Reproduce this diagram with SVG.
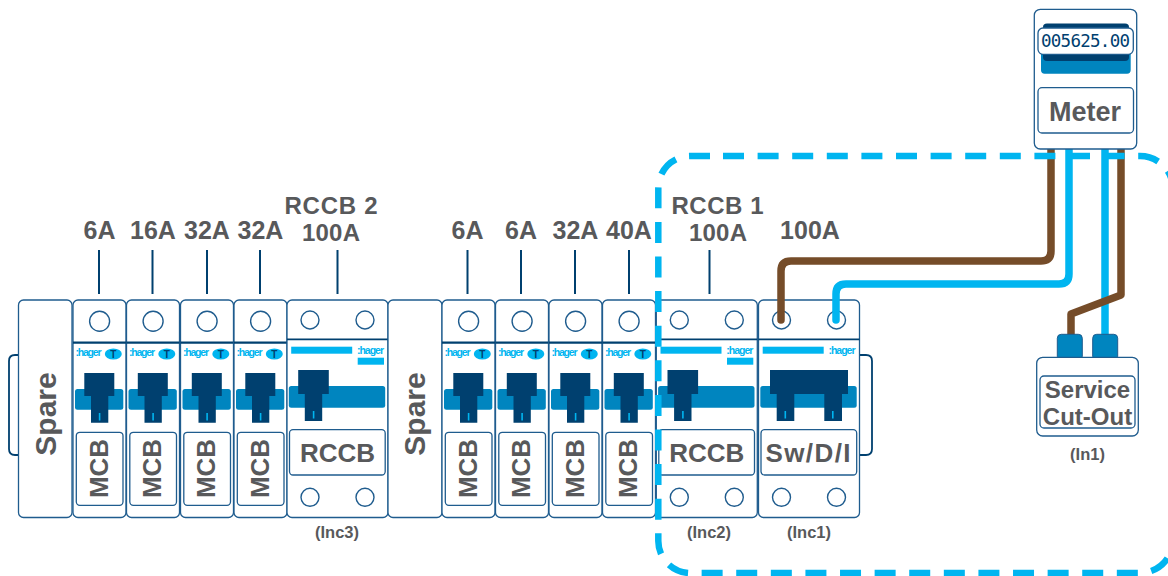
<svg xmlns="http://www.w3.org/2000/svg" width="1168" height="576" viewBox="0 0 1168 576">
<style>
text{font-family:"Liberation Sans",Arial,sans-serif;font-weight:700;fill:#58595b;text-anchor:middle}
.body{fill:#fff;stroke:#1f5c8e;stroke-width:1.3}
.box{fill:#fff;stroke:#1f5c8e;stroke-width:1.3}
.ter{fill:#fff;stroke:#1f5c8e;stroke-width:1.4}
.div{stroke:#00406f;fill:none}
.dark{fill:#00406f}
.bar{fill:#0085bf}
.cy{fill:#00b5f0}
.tick{stroke:#00406f;stroke-width:2;fill:none}
.lab{font-size:25px}
.lab2{font-size:24px}
.mod{font-size:26px}
.inc{font-size:16.5px}
.ha{font-size:10.5px;fill:#00b5f0;text-anchor:start;font-weight:700}
.t{font-size:10px;fill:#00406f}
.wb{fill:none;stroke:#754c29;stroke-width:7.5;stroke-linecap:round;stroke-linejoin:round}
.wc{fill:none;stroke:#00b5f0;stroke-width:7.5;stroke-linecap:round;stroke-linejoin:round}
.dash{fill:none;stroke:#00b5f0;stroke-width:6.5;stroke-dasharray:21 13.6}
</style>
<defs>
<g id="mcb-shape">
<rect class="body" x="0" y="300" width="53" height="217.5" rx="5"/>
<circle class="ter" cx="26.6" cy="321.3" r="10"/>
<path class="div" stroke-width="2.2" d="M0 342.7H53"/>
<ellipse class="cy" cx="40.3" cy="354" rx="8.5" ry="5.5"/>
<rect class="bar" x="2" y="389" width="48.3" height="20.7" rx="2.5"/>
<path class="dark" d="M11.3 373H41.3V396H35.3V422.7H18V396H11.3Z"/>
<rect class="cy" x="25.8" y="413" width="1.6" height="7.5"/>
<rect class="box" x="3.3" y="432.3" width="46.7" height="73" rx="3.5"/>
</g>
<g id="wide-shape">
<rect class="body" x="0" y="300" width="101" height="217.5" rx="5"/>
<circle class="ter" cx="23" cy="320" r="9"/>
<circle class="ter" cx="78" cy="320" r="9"/>
<circle class="ter" cx="23" cy="497.3" r="9"/>
<circle class="ter" cx="78" cy="497.3" r="9"/>
<path class="div" stroke-width="1.8" d="M0 339.3H101"/>
<rect class="cy" x="4.2" y="346.7" width="61" height="7"/>
<rect class="bar" x="1.8" y="386" width="96.4" height="21.7" rx="2.5"/>
<rect class="box" x="2.5" y="429.7" width="95.7" height="45.3" rx="3.5"/>
</g>
<path id="rccb-handle" class="dark" d="M11.2 370H41.8V394H35.2V421H17.8V394H11.2Z"/>
</defs>

<g id="brackets">
<path d="M18 355H15Q9 355 9 361V449Q9 455 15 455H18" fill="none" stroke="#00406f" stroke-width="1.8"/>
<path d="M860 355H866Q872 355 872 361V449Q872 455 866 455H860" fill="none" stroke="#00406f" stroke-width="1.8"/>
</g>

<g id="spare1"><rect class="body" x="18.5" y="300" width="53.500" height="217.500" rx="5"/><text transform="translate(55.500,414) rotate(-90)" font-size="30">Spare</text></g>
<g id="mcb1" transform="translate(73,0)"><use href="#mcb-shape"/><text class="ha" x="2.500" y="356" textLength="26">:hager</text><text class="t" x="40.300" y="357.500">T</text><text class="mod" transform="translate(34.500,468.500) rotate(-90)">MCB</text></g>
<g id="mcb2" transform="translate(126.500,0)"><use href="#mcb-shape"/><text class="ha" x="2.500" y="356" textLength="26">:hager</text><text class="t" x="40.300" y="357.500">T</text><text class="mod" transform="translate(34.500,468.500) rotate(-90)">MCB</text></g>
<g id="mcb3" transform="translate(180.500,0)"><use href="#mcb-shape"/><text class="ha" x="2.500" y="356" textLength="26">:hager</text><text class="t" x="40.300" y="357.500">T</text><text class="mod" transform="translate(34.500,468.500) rotate(-90)">MCB</text></g>
<g id="mcb4" transform="translate(234,0)"><use href="#mcb-shape"/><text class="ha" x="2.500" y="356" textLength="26">:hager</text><text class="t" x="40.300" y="357.500">T</text><text class="mod" transform="translate(34.500,468.500) rotate(-90)">MCB</text></g>
<g id="rccb2" transform="translate(287,0)"><use href="#wide-shape"/><rect class="cy" x="70.700" y="357.700" width="26.300" height="7"/><use href="#rccb-handle"/><rect class="cy" x="25.800" y="411" width="1.600" height="7.500"/><text class="ha" x="70" y="353.500" textLength="27">:hager</text><text class="mod" x="50.500" y="461.500">RCCB</text></g>

<g id="spare2"><rect class="body" x="388" y="300" width="54" height="217.500" rx="5"/><text transform="translate(425,414) rotate(-90)" font-size="30">Spare</text></g>
<g id="mcb5" transform="translate(442,0)"><use href="#mcb-shape"/><text class="ha" x="2.500" y="356" textLength="26">:hager</text><text class="t" x="40.300" y="357.500">T</text><text class="mod" transform="translate(34.500,468.500) rotate(-90)">MCB</text></g>
<g id="mcb6" transform="translate(495.500,0)"><use href="#mcb-shape"/><text class="ha" x="2.500" y="356" textLength="26">:hager</text><text class="t" x="40.300" y="357.500">T</text><text class="mod" transform="translate(34.500,468.500) rotate(-90)">MCB</text></g>
<g id="mcb7" transform="translate(549,0)"><use href="#mcb-shape"/><text class="ha" x="2.500" y="356" textLength="26">:hager</text><text class="t" x="40.300" y="357.500">T</text><text class="mod" transform="translate(34.500,468.500) rotate(-90)">MCB</text></g>
<g id="mcb8" transform="translate(602.500,0)"><use href="#mcb-shape"/><text class="ha" x="2.500" y="356" textLength="26">:hager</text><text class="t" x="40.300" y="357.500">T</text><text class="mod" transform="translate(34.500,468.500) rotate(-90)">MCB</text></g>
<g id="rccb1" transform="translate(656.300,0)"><use href="#wide-shape"/><rect class="cy" x="70.700" y="357.700" width="26.300" height="7"/><use href="#rccb-handle"/><rect class="cy" x="25.800" y="411" width="1.600" height="7.500"/><text class="ha" x="70" y="353.500" textLength="27">:hager</text><text class="mod" x="50.500" y="461.500">RCCB</text></g>
<g id="swdi" transform="translate(758.500,0)"><use href="#wide-shape"/><path class="dark" d="M11.500 370H89.500V394H83.500V421H65.800V394H35.800V421H18.200V394H11.500Z"/><rect class="cy" x="26" y="411" width="1.600" height="7.500"/><rect class="cy" x="73.500" y="411" width="1.600" height="7.500"/><text class="ha" x="70" y="353.500" textLength="27">:hager</text><text class="mod" x="49.500" y="461.500" textLength="85">Sw/D/I</text></g>

<g id="labels">
<text class="lab" x="99.500" y="239">6A</text>
<text class="lab" x="153" y="239">16A</text>
<text class="lab" x="207" y="239">32A</text>
<text class="lab" x="260.500" y="239">32A</text>
<text class="lab2" x="331" y="213.500" textLength="93">RCCB 2</text>
<text class="lab2" x="331" y="240.500" textLength="58">100A</text>
<text class="lab" x="467.500" y="239">6A</text>
<text class="lab" x="521" y="239">6A</text>
<text class="lab" x="575.500" y="239">32A</text>
<text class="lab" x="629" y="239">40A</text>
<text class="lab2" x="717.500" y="213.500" textLength="92">RCCB 1</text>
<text class="lab2" x="718" y="240.500" textLength="58">100A</text>
<text class="lab" x="810" y="239">100A</text>
<text class="inc" x="337" y="538">(Inc3)</text>
<text class="inc" x="709" y="538">(Inc2)</text>
<text class="inc" x="809" y="538">(Inc1)</text>
<text class="inc" x="1087.500" y="460">(In1)</text>
</g>

<g id="connectors">
<path class="tick" d="M99 250V294M152.500 250V294M207 250V294M260 250V294M337.500 250V294M467.500 250V294M521 250V294M575 250V294M629 250V294M709.500 250V294"/>
<path class="wb" d="M1051 145V251Q1051 261 1041 261H791Q781 261 781 271V320"/>
<path class="wc" d="M1069 145V274Q1069 284 1059 284H846Q836 284 836 294V320"/>
<path class="wc" d="M1105 145V338" stroke-linecap="butt"/>
<path class="wb" d="M1121 145V295L1071 314V338" stroke-linejoin="miter"/>
</g>

<g id="meter">
<rect class="body" x="1034.300" y="9.300" width="102.400" height="139.700" rx="6"/>
<path class="bar" d="M1041 50H1130.700V70Q1130.700 73.700 1127 73.700H1044.700Q1041 73.700 1041 70Z"/>
<path class="dark" d="M1043 27Q1043 23.500 1047 23.500H1125Q1129 23.500 1129 27V57Q1129 61 1125 61H1047Q1043 61 1043 57Z"/>
<rect class="box" x="1038" y="28" width="95.300" height="26.300" rx="5"/>
<text x="1085.500" y="47" font-size="17.500" textLength="89" style="font-family:'DejaVu Sans Mono',monospace;font-weight:400;fill:#00406f">005625.00</text>
<rect class="box" x="1038" y="87.700" width="95.500" height="45.300" rx="4"/>
<text x="1085" y="121" font-size="27">Meter</text>
</g>

<g id="cutout">
<rect class="bar" x="1057.300" y="334.300" width="25" height="26" rx="4" stroke="#1f5c8e" stroke-width="1"/>
<rect class="bar" x="1092.700" y="334.300" width="25" height="26" rx="4" stroke="#1f5c8e" stroke-width="1"/>
<rect class="body" x="1036.700" y="357.300" width="101.600" height="78.700" rx="6"/>
<rect class="box" x="1040" y="376" width="95" height="52" rx="4"/>
<text x="1087.500" y="398" font-size="24">Service</text>
<text x="1087.500" y="424.500" font-size="24">Cut-Out</text>
</g>

<g id="boundary">
<path class="dash" d="M710 156H690A32 32 0 0 0 658.300 188V541A32 32 0 0 0 690 573H1140A33 33 0 0 0 1173 540"/>
<path class="dash" d="M723 156H1140A33 33 0 0 1 1173 189V400"/>
</g>
</svg>
